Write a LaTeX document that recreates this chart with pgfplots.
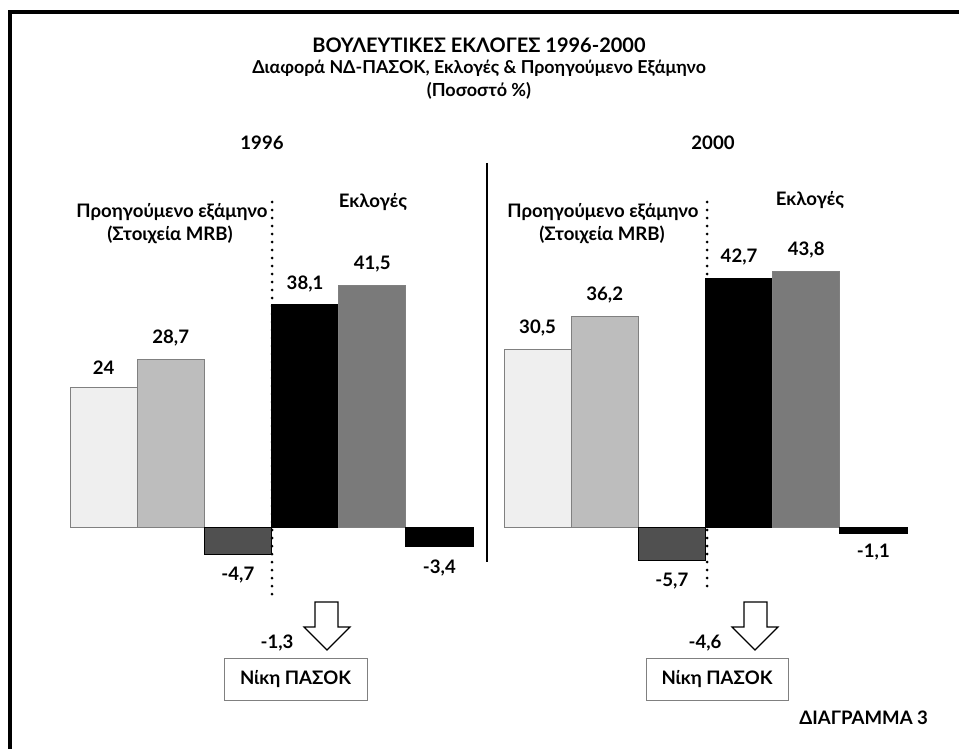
\documentclass[border=0pt]{standalone}
\usepackage{fontspec}
\setmainfont{Lato}
\usepackage{pgfplots}
\pgfplotsset{compat=1.18}

\definecolor{mrbnd}{HTML}{EFEFEF}
\definecolor{mrbpasok}{HTML}{BDBDBD}
\definecolor{mrbdiff}{HTML}{505050}
\definecolor{elpasok}{HTML}{7A7A7A}

% one panel = 6 bars; lengths in pt (1 px of the reference = 0.5pt)
\pgfplotsset{panel/.style={
    anchor=south west, scale only axis,
    width=201.5pt, height=174.9pt,
    xmin=-0.5, xmax=5.5, ymin=-10, ymax=50,
    hide axis, clip=false,
    every node/.append style={font=\bfseries\fontsize{9}{11}\selectfont},
  },
  bar/.style={ybar, bar width=1, draw=#1, line width=0.4pt},
}

\begin{document}
\begin{tikzpicture}[x=0.5pt, y=-0.5pt, font=\bfseries\fontsize{9.3}{11}\selectfont]
\path[use as bounding box] (0,0) rectangle (959,749);
\draw[line width=2pt] (9.5,749) -- (9.5,12) -- (959,12);

% titles
\node at (479,45) {\fontsize{10}{12}\selectfont ΒΟΥΛΕΥΤΙΚΕΣ ΕΚΛΟΓΕΣ 1996-2000};
\node at (479,68) {\fontsize{8.9}{12}\selectfont Διαφορά ΝΔ-ΠΑΣΟΚ, Εκλογές \& Προηγούμενο Εξάμηνο};
\node at (479,91) {\fontsize{9}{12}\selectfont (Ποσοστό \%)};

% 1996
\begin{axis}[panel, at={(35pt,-292.65pt)}]
\addplot[bar=gray, fill=mrbnd] coordinates {(0,24)};
\addplot[bar=gray, fill=mrbpasok] coordinates {(1,28.7)};
\addplot[bar=black, fill=mrbdiff] coordinates {(2,-4.7)};
\addplot[bar=black, fill=black] coordinates {(3,38.1)};
\addplot[bar=gray, fill=elpasok] coordinates {(4,41.5)};
\addplot[bar=black, fill=black] coordinates {(5,-3.4)};
\node[anchor=south, yshift=3pt] at (axis cs:0,24) {24};
\node[anchor=south, yshift=3pt] at (axis cs:1,28.7) {28,7};
\node[anchor=north, yshift=-3pt] at (axis cs:2,-4.7) {-4,7};
\node[anchor=south, yshift=3pt] at (axis cs:3,38.1) {38,1};
\node[anchor=south, yshift=3pt] at (axis cs:4,41.5) {41,5};
\node[anchor=north, yshift=-3pt] at (axis cs:5,-3.4) {-3,4};
\end{axis}

% 2000
\begin{axis}[panel, at={(252pt,-292.65pt)}]
\addplot[bar=gray, fill=mrbnd] coordinates {(0,30.5)};
\addplot[bar=gray, fill=mrbpasok] coordinates {(1,36.2)};
\addplot[bar=black, fill=mrbdiff] coordinates {(2,-5.7)};
\addplot[bar=black, fill=black] coordinates {(3,42.7)};
\addplot[bar=gray, fill=elpasok] coordinates {(4,43.8)};
\addplot[bar=black, fill=black] coordinates {(5,-1.1)};
\node[anchor=south, yshift=3pt] at (axis cs:0,30.5) {30,5};
\node[anchor=south, yshift=3pt] at (axis cs:1,36.2) {36,2};
\node[anchor=north, yshift=-3pt] at (axis cs:2,-5.7) {-5,7};
\node[anchor=south, yshift=3pt] at (axis cs:3,42.7) {42,7};
\node[anchor=south, yshift=3pt] at (axis cs:4,43.8) {43,8};
\node[anchor=north, yshift=-2pt] at (axis cs:5,-1.1) {-1,1};
\end{axis}

% separators
\draw[line width=1.2pt] (487,163) -- (487,562);
\draw[line width=1.5pt, line cap=round, dash pattern=on 0pt off 4pt] (272,202) -- (272,599);
\draw[line width=1.5pt, line cap=round, dash pattern=on 0pt off 4pt] (707,202) -- (707,588);

% panel headings
\node at (262,143) {1996};
\node at (713,143) {2000};
\node at (172,212) {Προηγούμενο εξάμηνο};
\node at (170,235) {(Στοιχεία MRB)};
\node at (373,202) {Εκλογές};
\node at (603,212) {Προηγούμενο εξάμηνο};
\node at (602,235) {(Στοιχεία MRB)};
\node at (810,200) {Εκλογές};

% arrows and result boxes
\draw[line width=0.6pt, line join=miter] (315,602) -- (338,602) -- (338,627) -- (350,627) -- (327,650) -- (304,627) -- (315,627) -- cycle;
\draw[line width=0.6pt, line join=miter] (744,602) -- (767,602) -- (767,627) -- (778,627) -- (755,650) -- (732,627) -- (744,627) -- cycle;
\node at (277,643) {-1,3};
\node at (705,643) {-4,6};
\draw[gray, line width=0.5pt] (224,658) rectangle (367,700);
\draw[gray, line width=0.5pt] (646,658) rectangle (788,700);
\node at (295.5,679) {Νίκη ΠΑΣΟΚ};
\node at (717,679) {Νίκη ΠΑΣΟΚ};

\node[anchor=east] at (935,718) {ΔΙΑΓΡΑΜΜΑ 3};
\end{tikzpicture}
\end{document}
